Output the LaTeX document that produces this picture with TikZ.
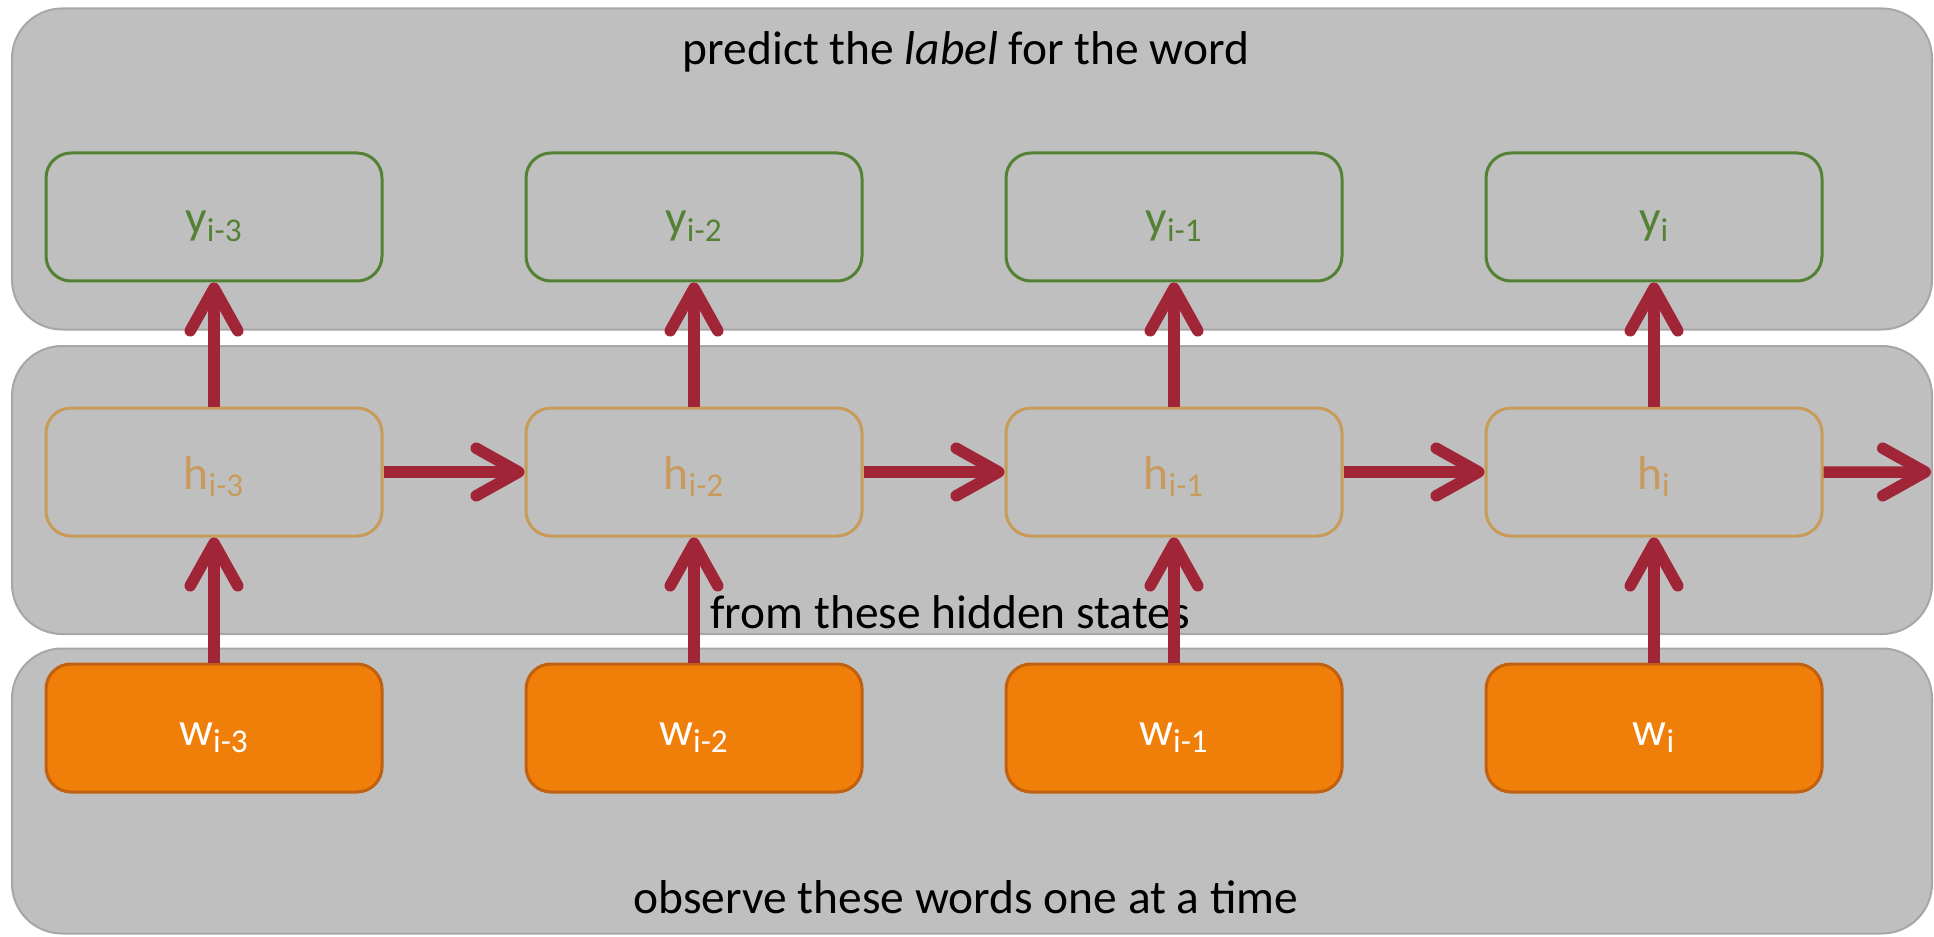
\documentclass[tikz,border=0pt]{standalone}
\usepackage{fontspec}
\setmainfont{Carlito}
\usepackage{xcolor}
\usetikzlibrary{arrows.meta, positioning}

\definecolor{panelgray}{RGB}{191,191,191}
\definecolor{paneledge}{RGB}{166,166,166}
\definecolor{outgreen}{RGB}{84,130,53}
\definecolor{hidtan}{RGB}{200,155,90}
\definecolor{wordorange}{RGB}{240,127,10}
\definecolor{wordedge}{RGB}{192,96,16}
\definecolor{linkred}{RGB}{160,37,54}

\begin{document}
\begin{tikzpicture}[
    node distance=2.5cm and 2.82cm,
    panel/.style={rectangle, rounded corners=1cm, draw=paneledge, fill=panelgray, line width=0.04cm, minimum width=38.4cm},
    caption/.style={font=\fontsize{27}{32}\selectfont, inner sep=0pt},
    cell/.style={rectangle, rounded corners=0.5cm, line width=0.06cm, minimum width=6.72cm, minimum height=2.56cm, text height=0.8cm, text depth=0.12cm, font=\fontsize{27}{30}\selectfont},
    ybox/.style={cell, draw=outgreen, text=outgreen},
    hbox/.style={cell, draw=hidtan, text=hidtan},
    wbox/.style={cell, draw=wordedge, fill=wordorange, text=white},
    arrow/.style={line width=0.23cm, linkred, -{Straight Barb[length=0.85cm, width=0.95cm, round]}}
]
\useasboundingbox (0,0) rectangle (38.68,18.72);

% layers
\node[panel, minimum height=6.42cm] (top) at (19.44,15.34) {};
\node[panel, minimum height=5.76cm] (mid) at (19.44,8.92) {};
\node[panel, minimum height=5.7cm] (bot) at (19.44,2.9) {};

\node[caption] (ttop) at (19.32,17.68) {predict the \textit{label} for the word};
\node[caption] (tmid) at (19.0,6.48) {from these hidden states};
\node[caption] (tbot) at (19.32,0.78) {observe these words one at a time};

% outputs
\node[ybox] (y1) at (4.28,14.38) {y\textsubscript{i-3}};
\node[ybox, right=of y1] (y2) {y\textsubscript{i-2}};
\node[ybox, right=of y2] (y3) {y\textsubscript{i-1}};
\node[ybox, right=of y3] (y4) {y\textsubscript{i}};

% hidden states
\node[hbox, below=2.48cm of y1] (h1) {h\textsubscript{i-3}};
\node[hbox, right=of h1] (h2) {h\textsubscript{i-2}};
\node[hbox, right=of h2] (h3) {h\textsubscript{i-1}};
\node[hbox, right=of h3] (h4) {h\textsubscript{i}};
\coordinate (hout) at (38.62,9.28);

% words
\node[wbox, below=of h1] (w1) {w\textsubscript{i-3}};
\node[wbox, right=of w1] (w2) {w\textsubscript{i-2}};
\node[wbox, right=of w2] (w3) {w\textsubscript{i-1}};
\node[wbox, right=of w3] (w4) {w\textsubscript{i}};

% arrows
\draw[arrow] (w1) -- (h1);
\draw[arrow] (w2) -- (h2);
\draw[arrow] (w3) -- (h3);
\draw[arrow] (w4) -- (h4);
\draw[arrow] (h1) -- (y1);
\draw[arrow] (h2) -- (y2);
\draw[arrow] (h3) -- (y3);
\draw[arrow] (h4) -- (y4);
\draw[arrow] (h1) -- (h2);
\draw[arrow] (h2) -- (h3);
\draw[arrow] (h3) -- (h4);
\draw[arrow] (h4) -- (hout);

\end{tikzpicture}
\end{document}
